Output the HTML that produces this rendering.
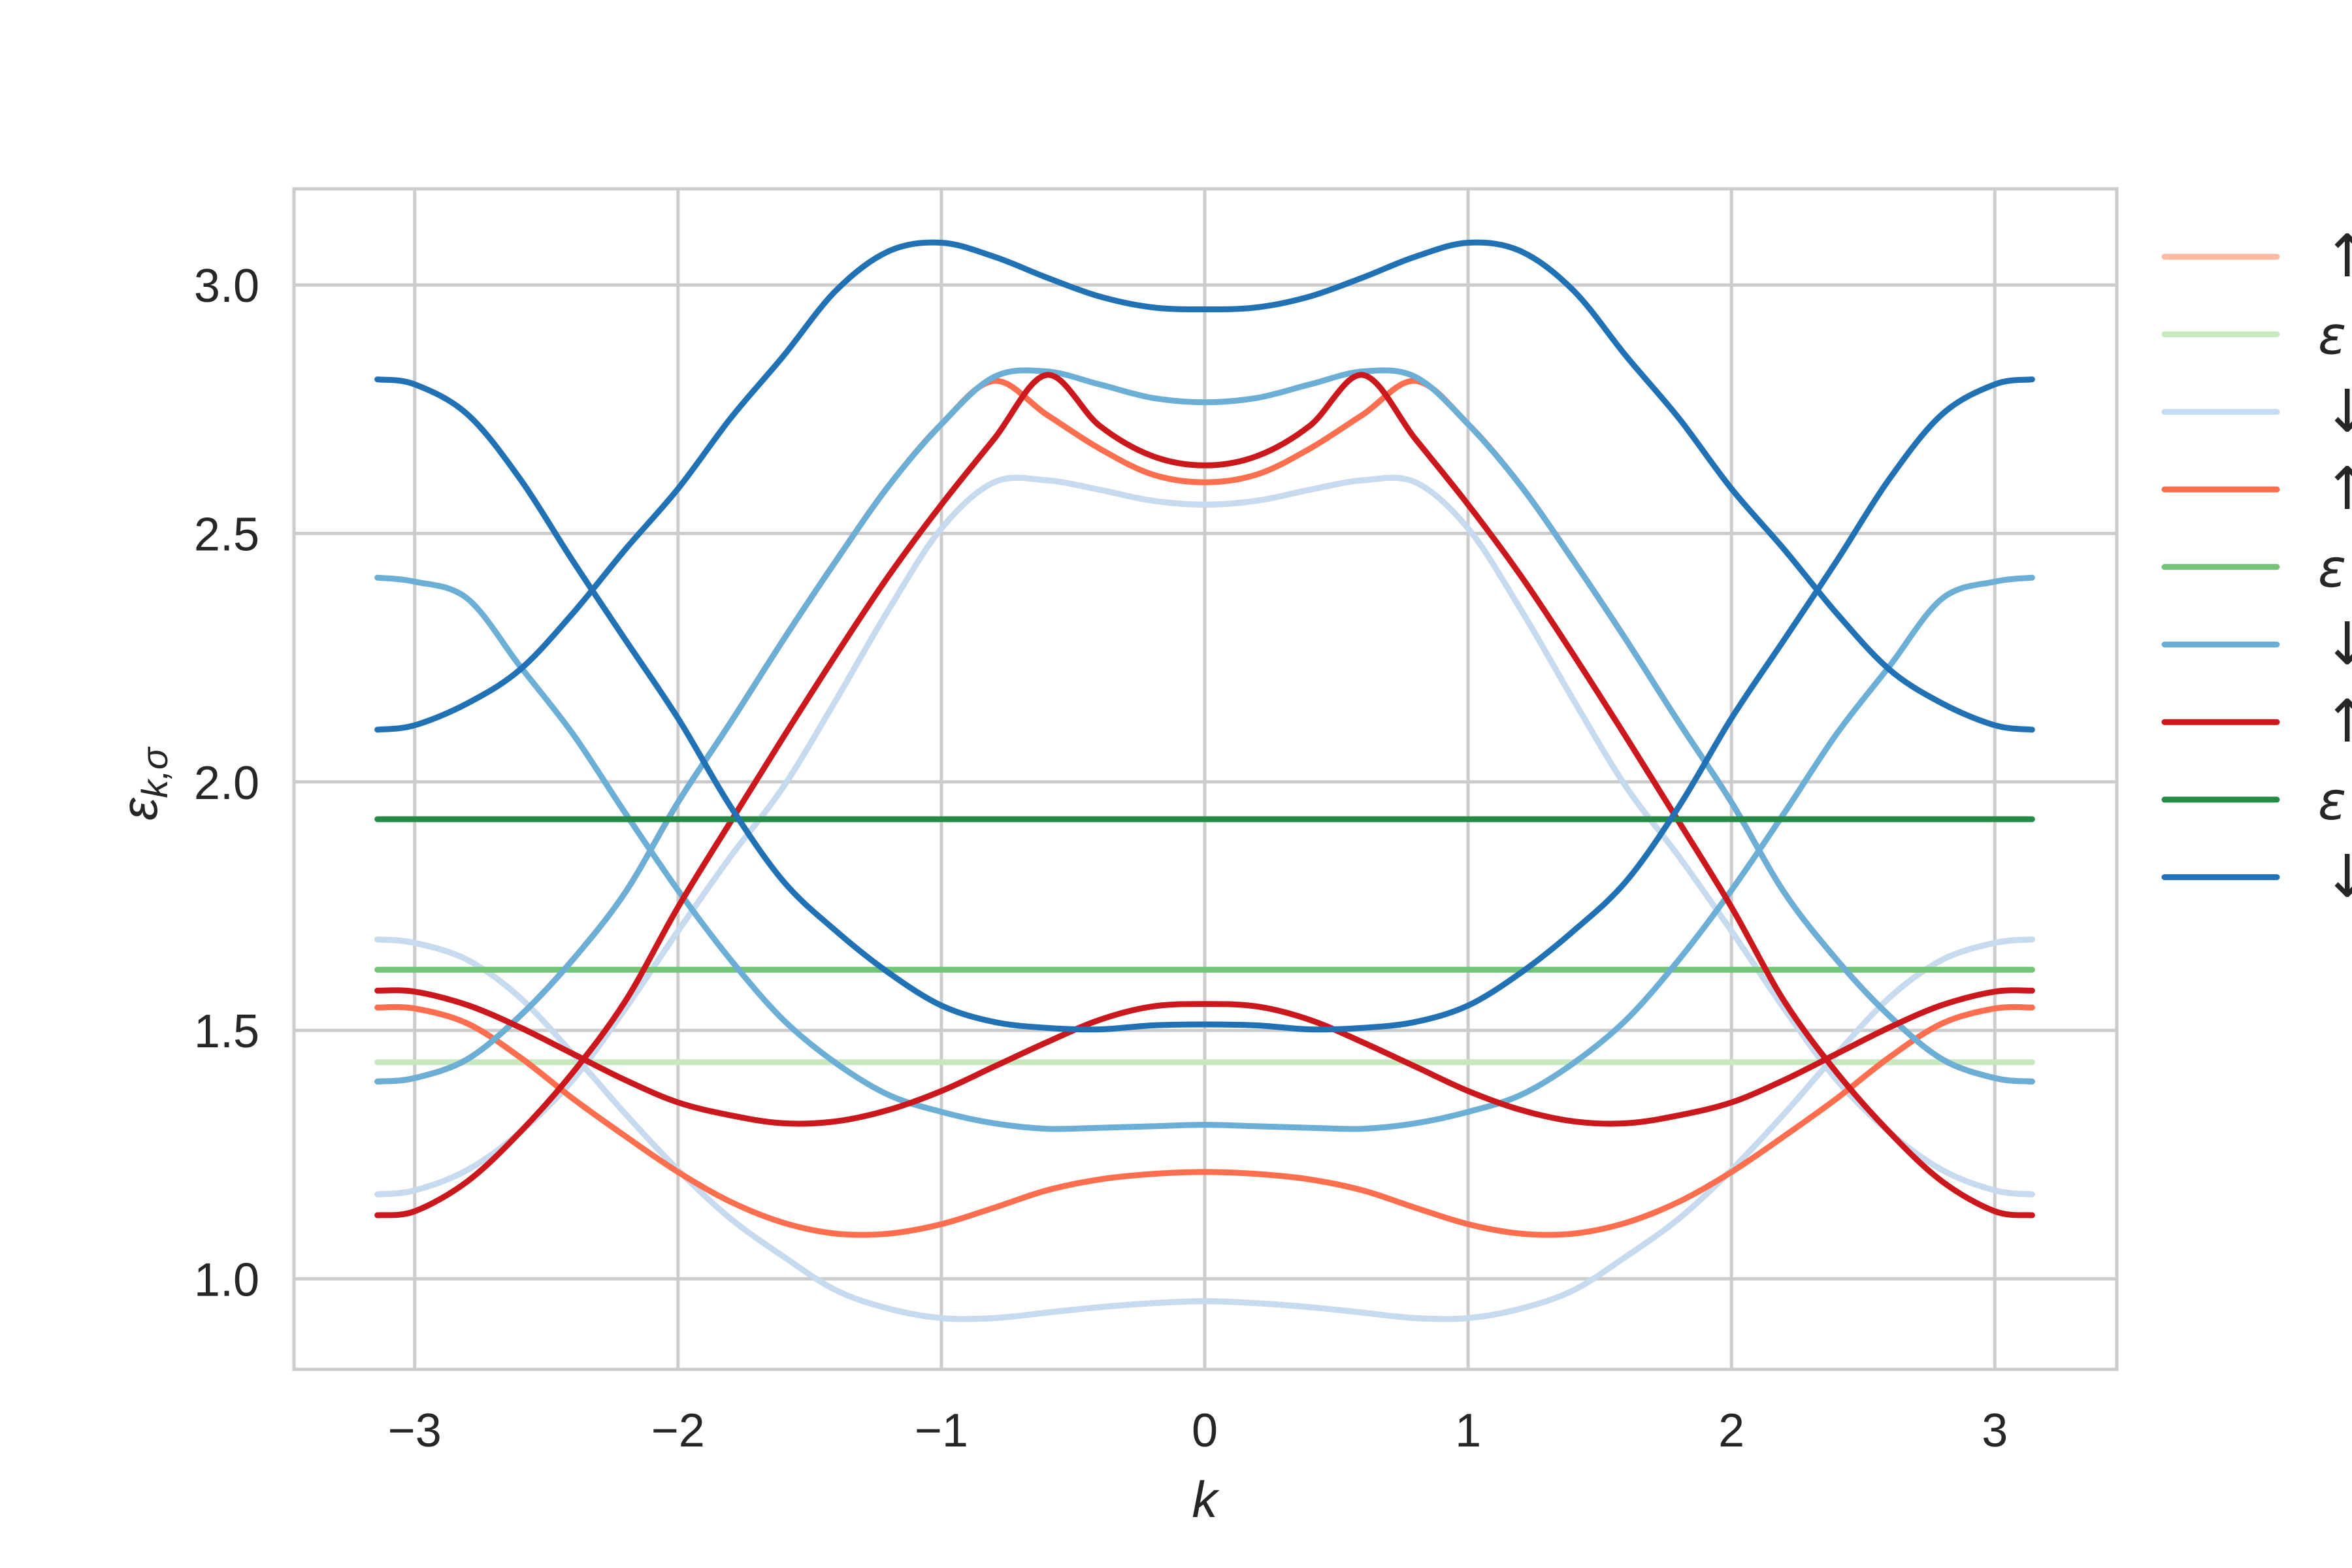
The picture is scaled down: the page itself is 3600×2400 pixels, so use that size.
<!DOCTYPE html>
<html><head><meta charset="utf-8">
<style>
html,body{margin:0;padding:0;background:#fff;}
svg{display:block;font-family:"Liberation Sans","DejaVu Sans",sans-serif;}
</style></head>
<body>
<svg id="chart" width="3600" height="2400" viewBox="0 0 3600 2400" xmlns="http://www.w3.org/2000/svg">
<defs><clipPath id="plotclip"><rect x="450" y="289" width="2790" height="1807"/></clipPath></defs>
<g id="grid"></g>
<g id="series" clip-path="url(#plotclip)"></g>
<rect x="450" y="289" width="2790" height="1807" fill="none" stroke="#cccccc" stroke-width="5"/>
<g id="xticks"></g>
<g id="yticks"></g>
<text x="1844" y="2322" font-size="78" font-style="italic" text-anchor="middle" fill="#262626">k</text>
<text transform="translate(240,1200) rotate(-90)" font-size="78" text-anchor="middle" fill="#262626"><tspan font-style="italic">ε</tspan><tspan font-size="56" dy="16" font-style="italic">k,σ</tspan></text>
<g id="legend"></g>
</svg>
<script>
const kGrid = [-3.1416,-3.0,-2.8,-2.6,-2.4,-2.2,-2.0,-1.8,-1.6,-1.4,-1.2,-1.0,-0.8,-0.6,-0.4,-0.2,0,0.2,0.4,0.6,0.8,1.0,1.2,1.4,1.6,1.8,2.0,2.2,2.4,2.6,2.8,3.0,3.1416];
const lightBlueA = [1.17,1.178,1.219,1.295,1.40,1.544,1.70,1.85,1.99,2.165,2.347,2.51,2.603,2.607,2.588,2.566,2.558,2.566,2.588,2.607,2.603,2.51,2.347,2.165,1.99,1.85,1.70,1.544,1.40,1.295,1.219,1.178,1.17];
const lightBlueB = [1.683,1.676,1.642,1.566,1.453,1.332,1.219,1.121,1.045,0.977,0.94,0.921,0.921,0.932,0.943,0.951,0.955,0.951,0.943,0.932,0.921,0.921,0.94,0.977,1.045,1.121,1.219,1.332,1.453,1.566,1.642,1.676,1.683];
const lightOrangeA = [1.17,1.178,1.219,1.295,1.40,1.544,1.70,1.85,1.99,2.165,2.347,2.51,2.603,2.607,2.588,2.566,2.558,2.566,2.588,2.607,2.603,2.51,2.347,2.165,1.99,1.85,1.70,1.544,1.40,1.295,1.219,1.178,1.17];
const lightOrangeB = [1.683,1.676,1.642,1.566,1.453,1.332,1.219,1.121,1.045,0.977,0.94,0.921,0.921,0.932,0.943,0.951,0.955,0.951,0.943,0.932,0.921,0.921,0.94,0.977,1.045,1.121,1.219,1.332,1.453,1.566,1.642,1.676,1.683];
const orangeA = [1.546,1.544,1.514,1.446,1.363,1.287,1.215,1.155,1.113,1.091,1.091,1.11,1.143,1.178,1.20,1.211,1.215,1.211,1.20,1.178,1.143,1.11,1.091,1.091,1.113,1.155,1.215,1.287,1.363,1.446,1.514,1.544,1.546];
const orangeB = [1.397,1.404,1.442,1.529,1.642,1.778,1.959,2.12,2.286,2.445,2.596,2.72,2.807,2.739,2.671,2.619,2.603,2.619,2.671,2.739,2.807,2.72,2.596,2.445,2.286,2.12,1.959,1.778,1.642,1.529,1.442,1.404,1.397];
const midBlueA = [1.397,1.404,1.442,1.529,1.642,1.778,1.959,2.12,2.286,2.445,2.596,2.72,2.815,2.826,2.80,2.773,2.764,2.773,2.80,2.826,2.815,2.72,2.596,2.445,2.286,2.12,1.959,1.778,1.642,1.529,1.442,1.404,1.397];
const midBlueB = [2.411,2.403,2.369,2.233,2.097,1.937,1.782,1.642,1.521,1.434,1.37,1.336,1.313,1.302,1.304,1.307,1.31,1.307,1.304,1.302,1.313,1.336,1.37,1.434,1.521,1.642,1.782,1.937,2.097,2.233,2.369,2.403,2.411];
const redA = [1.128,1.136,1.196,1.295,1.415,1.559,1.748,1.92,2.09,2.256,2.415,2.558,2.69,2.819,2.717,2.656,2.637,2.656,2.717,2.819,2.69,2.558,2.415,2.256,2.09,1.92,1.748,1.559,1.415,1.295,1.196,1.136,1.128];
const redB = [1.58,1.578,1.551,1.506,1.453,1.40,1.355,1.329,1.313,1.317,1.34,1.378,1.427,1.476,1.521,1.548,1.553,1.548,1.521,1.476,1.427,1.378,1.34,1.317,1.313,1.329,1.355,1.40,1.453,1.506,1.551,1.578,1.58];
const darkBlueA = [2.105,2.114,2.158,2.226,2.339,2.468,2.59,2.732,2.857,2.989,3.068,3.085,3.057,3.015,2.977,2.955,2.951,2.955,2.977,3.015,3.057,3.085,3.068,2.989,2.857,2.732,2.59,2.468,2.339,2.226,2.158,2.114,2.105];
const darkBlueB = [2.81,2.80,2.74,2.61,2.445,2.286,2.128,1.95,1.80,1.70,1.616,1.55,1.517,1.505,1.502,1.51,1.512,1.51,1.502,1.505,1.517,1.55,1.616,1.70,1.80,1.95,2.128,2.286,2.445,2.61,2.74,2.80,2.81];
const flatLevels = [1.436, 1.622, 1.925];
const xTicks = [-3,-2,-1,0,1,2,3];
const xTickLabels = ["\u22123","\u22122","\u22121","0","1","2","3"];
const yTicks = [1.0,1.5,2.0,2.5,3.0];
const yTickLabels = ["1.0","1.5","2.0","2.5","3.0"];
const legendLabels = ["\u2191","\u03b5","\u2193","\u2191","\u03b5","\u2193","\u2191","\u03b5","\u2193"];

const NS="http://www.w3.org/2000/svg";
const X0=450,X1=3240,Y0=289,Y1=2096;
function xs(k){return 1844+k*403.1;}
function ys(v){return 436.2+(3.0-v)*760.6;}
function mk(tag,attrs,parent){const e=document.createElementNS(NS,tag);for(const a in attrs)e.setAttribute(a,attrs[a]);parent.appendChild(e);return e;}

const grid=document.getElementById('grid');
xTicks.forEach((t,i)=>{
  const l=mk('line',{x1:xs(t),x2:xs(t),y1:Y0,y2:Y1,stroke:'#cccccc','stroke-width':5},grid);
  
  
  const tx=mk('text',{x:xs(t),y:2214,'font-size':72,'text-anchor':'middle',fill:'#262626'},document.getElementById('xticks'));
  tx.textContent=xTickLabels[i];
  
  
});
yTicks.forEach((t,i)=>{
  const l=mk('line',{x1:X0,x2:X1,y1:ys(t),y2:ys(t),stroke:'#cccccc','stroke-width':5},grid);
  
  
  const tx=mk('text',{x:397,y:ys(t)+26,'font-size':72,'text-anchor':'end',fill:'#262626'},document.getElementById('yticks'));
  tx.textContent=yTickLabels[i];
  
  
});

function pathFor(vals){
  const p=kGrid.map((k,i)=>[xs(k),ys(vals[i])]);
  let d='M'+p[0][0].toFixed(1)+','+p[0][1].toFixed(1);
  for(let i=0;i<p.length-1;i++){
    const a=p[Math.max(0,i-1)],b=p[i],c=p[i+1],e=p[Math.min(p.length-1,i+2)];
    const c1=[b[0]+(c[0]-a[0])/6,b[1]+(c[1]-a[1])/6];
    const c2=[c[0]-(e[0]-b[0])/6,c[1]-(e[1]-b[1])/6];
    d+=' C'+c1[0].toFixed(1)+','+c1[1].toFixed(1)+' '+c2[0].toFixed(1)+','+c2[1].toFixed(1)+' '+c[0].toFixed(1)+','+c[1].toFixed(1);
  }
  return d;
}
const sg=document.getElementById('series');
function band(vals,color,name){
  const p=mk('path',{d:pathFor(vals),fill:'none',stroke:color,'stroke-width':9,'stroke-linecap':'round','stroke-linejoin':'round'},sg);
  
  
}
function flat(v,color,name){
  const p=mk('line',{x1:xs(kGrid[0]),x2:xs(kGrid[kGrid.length-1]),y1:ys(v),y2:ys(v),stroke:color,'stroke-width':9,'stroke-linecap':'round'},sg);
  
  
}
const colors=['#fcbba1','#c7e9c0','#c6dbef','#fc6e4e','#74c476','#6baed6','#cb181d','#238b45','#2171b5'];
band(lightOrangeA,colors[0],'light-orange-band-upper');
band(lightOrangeB,colors[0],'light-orange-band-lower');
flat(flatLevels[0],colors[1],'light-green-level');
band(lightBlueA,colors[2],'light-blue-band-upper');
band(lightBlueB,colors[2],'light-blue-band-lower');
band(orangeA,colors[3],'orange-band-lower');
band(orangeB,colors[3],'orange-band-upper');
flat(flatLevels[1],colors[4],'green-level');
band(midBlueA,colors[5],'mid-blue-band-a');
band(midBlueB,colors[5],'mid-blue-band-b');
band(redA,colors[6],'red-band-upper');
band(redB,colors[6],'red-band-lower');
flat(flatLevels[2],colors[7],'dark-green-level');
band(darkBlueA,colors[8],'dark-blue-band-a');
band(darkBlueB,colors[8],'dark-blue-band-b');

const lg=document.getElementById('legend');
legendLabels.forEach((lab,i)=>{
  const y=393+i*118.7;
  const l=mk('line',{x1:3313,x2:3485,y1:y,y2:y,stroke:colors[i],'stroke-width':9,'stroke-linecap':'round'},lg);
  
  
  const isEps = lab==='\u03b5';
  const t=mk('text',{x:isEps?3548:3555,y:y+30,'font-size':isEps?80:90,fill:'#262626','font-style':isEps?'italic':'normal','font-family':'"DejaVu Sans",sans-serif'},lg);
  t.textContent=lab;
  
  
});
</script>
</body></html>
